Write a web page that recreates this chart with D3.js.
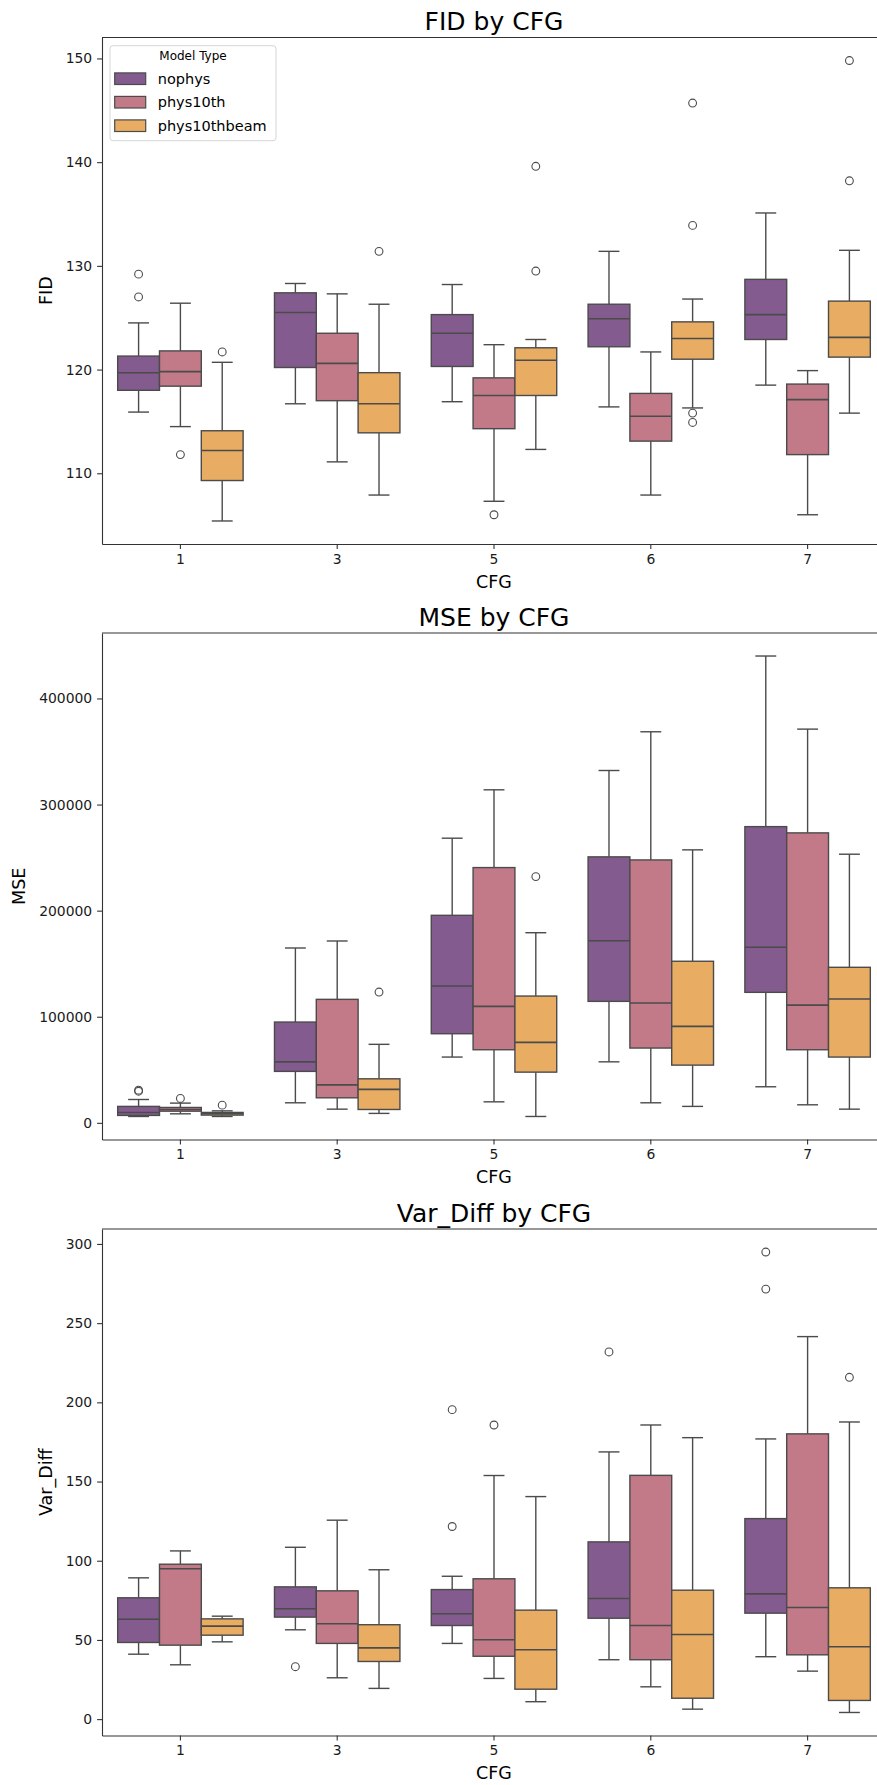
<!DOCTYPE html>
<html>
<head>
<meta charset="utf-8">
<script src="https://cdn.jsdelivr.net/npm/d3@7"></script>
<style>
  body { margin: 0; background: #fff; }
  svg { display: block; font-family: 'DejaVu Sans', sans-serif; }
</style>
</head>
<body>
<svg id="chart" width="877" height="1785"></svg>
<script>
const cfgs = ['1', '3', '5', '6', '7'];
const modelTypes = ['nophys', 'phys10th', 'phys10thbeam'];
const modelColors = ['#845b8f', '#c27a89', '#e8ad62'];

// one row per CFG: [lower whisker, q1, median, q3, upper whisker]
const fidNophys = [
  [115.9, 118.0, 119.7, 121.3, 124.5],
  [116.7, 120.2, 125.5, 127.4, 128.3],
  [116.9, 120.3, 123.5, 125.3, 128.2],
  [116.4, 122.2, 124.9, 126.3, 131.4],
  [118.5, 122.9, 125.3, 128.7, 135.1]
];
const fidPhys10th = [
  [114.5, 118.4, 119.8, 121.8, 126.4],
  [111.1, 117.0, 120.6, 123.5, 127.3],
  [107.3, 114.3, 117.5, 119.2, 122.4],
  [107.9, 113.1, 115.5, 117.7, 121.7],
  [106.0, 111.8, 117.1, 118.6, 119.9]
];
const fidPhys10thbeam = [
  [105.4, 109.3, 112.2, 114.1, 120.7],
  [107.9, 113.9, 116.7, 119.7, 126.3],
  [112.3, 117.5, 120.9, 122.1, 122.9],
  [116.3, 121.0, 123.0, 124.6, 126.8],
  [115.8, 121.2, 123.1, 126.6, 131.5]
];
// [cfg, model type, value]
const fidOutliers = [
  ['1', 'nophys', 127.0], ['1', 'nophys', 129.2], ['1', 'phys10th', 111.8],
  ['1', 'phys10thbeam', 121.7], ['3', 'phys10thbeam', 131.4], ['5', 'phys10th', 106.0],
  ['5', 'phys10thbeam', 139.6], ['5', 'phys10thbeam', 129.5],
  ['6', 'phys10thbeam', 145.7], ['6', 'phys10thbeam', 133.9],
  ['6', 'phys10thbeam', 115.8], ['6', 'phys10thbeam', 114.9],
  ['7', 'phys10thbeam', 149.8], ['7', 'phys10thbeam', 138.2]
];

const mseNophys = [
  [6000, 7000, 9800, 15500, 22000],
  [18900, 48500, 57500, 95000, 164800],
  [62000, 84000, 129000, 195600, 268300],
  [57500, 114500, 171700, 250700, 332100],
  [34000, 123000, 165500, 279200, 440000]
];
const msePhys10th = [
  [8500, 11000, 12600, 14500, 18600],
  [12900, 23600, 35800, 116400, 171400],
  [19800, 68900, 109800, 240600, 313900],
  [18900, 70500, 112900, 247800, 368600],
  [17000, 68900, 111000, 273300, 371100]
];
const msePhys10thbeam = [
  [6000, 7300, 8500, 9800, 11300],
  [8900, 12600, 31500, 41500, 74000],
  [6000, 47800, 75800, 119500, 179200],
  [15500, 54400, 90900, 152300, 257300],
  [12900, 62000, 116700, 146600, 253200]
];
const mseOutliers = [
  ['1', 'nophys', 29800], ['1', 'nophys', 30800], ['1', 'phys10th', 23000],
  ['1', 'phys10thbeam', 16700], ['3', 'phys10thbeam', 123300], ['5', 'phys10thbeam', 232100]
];

const varNophys = [
  [41.0, 48.4, 63.1, 76.6, 89.2],
  [56.4, 64.4, 69.7, 83.5, 108.5],
  [47.8, 59.1, 66.5, 81.8, 90.2],
  [37.5, 63.7, 76.2, 111.9, 168.7],
  [39.4, 66.9, 79.1, 126.6, 176.9]
];
const varPhys10th = [
  [34.3, 46.7, 94.9, 97.8, 106.2],
  [26.1, 47.8, 60.2, 81.0, 125.6],
  [25.7, 39.7, 50.1, 88.6, 153.8],
  [20.4, 37.5, 59.1, 153.9, 185.7],
  [30.3, 40.6, 70.5, 180.1, 241.5]
];
const varPhys10thbeam = [
  [48.8, 53.0, 58.7, 63.3, 65.0],
  [19.4, 36.4, 45.0, 59.6, 94.3],
  [11.0, 18.9, 43.8, 68.8, 140.5],
  [6.3, 13.2, 53.4, 81.4, 177.7],
  [4.2, 11.8, 45.7, 82.9, 187.6]
];
const varOutliers = [
  ['3', 'nophys', 33.1], ['5', 'nophys', 195.4], ['5', 'nophys', 121.6],
  ['5', 'phys10th', 185.7], ['6', 'nophys', 231.8],
  ['7', 'nophys', 294.9], ['7', 'nophys', 271.5], ['7', 'phys10thbeam', 215.8]
];

const fidTicks = [110, 120, 130, 140, 150];
const mseTicks = [0, 100000, 200000, 300000, 400000];
const varTicks = [0, 50, 100, 150, 200, 250, 300];

const panels = [
  { title: 'FID by CFG', ylabel: 'FID', series: [fidNophys, fidPhys10th, fidPhys10thbeam], outliers: fidOutliers, ticks: fidTicks, legend: true },
  { title: 'MSE by CFG', ylabel: 'MSE', series: [mseNophys, msePhys10th, msePhys10thbeam], outliers: mseOutliers, ticks: mseTicks },
  { title: 'Var_Diff by CFG', ylabel: 'Var_Diff', series: [varNophys, varPhys10th, varPhys10thbeam], outliers: varOutliers, ticks: varTicks }
];

const svg = d3.select('#chart');
const plotLeft = 102;
const plotRight = 886; // the right spine sits just past the picture edge
const plotHeight = 506.5;
const panelTops = [37.5, 633, 1229];
const ink = '#4b4b4b';
const spine = '#333';
const tickLen = 4.9;

const x = d3.scaleBand().domain(cfgs).range([plotLeft, plotRight]);
const hueX = d3.scaleBand().domain(modelTypes)
  .range([0.1 * x.bandwidth(), 0.9 * x.bandwidth()]);
const color = d3.scaleOrdinal().domain(modelTypes).range(modelColors);

function styleAxis(g) {
  g.select('.domain').attr('stroke', spine).attr('stroke-width', 1.1);
  g.selectAll('.tick line').attr('stroke', spine).attr('stroke-width', 1.1);
  g.selectAll('.tick text').attr('fill', '#1a1a1a').style('font-size', '13.9px');
  g.attr('font-family', null).attr('font-size', null);
}

function drawPanel(p, top) {
  const bottom = top + plotHeight;
  const values = p.series.flat(2).concat(p.outliers.map(d => d[2]));
  const [lo, hi] = d3.extent(values);
  const pad = (hi - lo) * 0.05;
  const y = d3.scaleLinear().domain([lo - pad, hi + pad]).range([bottom, top]);
  const bw = hueX.bandwidth();
  const g = svg.append('g');

  p.series.forEach((rows, mi) => {
    const model = modelTypes[mi];
    const box = g.append('g')
      .selectAll('g')
      .data(rows.map((s, i) => ({ cfg: cfgs[i], s })))
      .join('g')
      .attr('transform', d => `translate(${x(d.cfg) + hueX(model)},0)`);

    box.append('line')
      .attr('x1', bw / 2).attr('x2', bw / 2)
      .attr('y1', d => y(d.s[0])).attr('y2', d => y(d.s[1]))
      .attr('stroke', ink).attr('stroke-width', 1.4);
    box.append('line')
      .attr('x1', bw / 2).attr('x2', bw / 2)
      .attr('y1', d => y(d.s[3])).attr('y2', d => y(d.s[4]))
      .attr('stroke', ink).attr('stroke-width', 1.4);
    [0, 4].forEach(k => {
      box.append('line')
        .attr('x1', bw * 0.25).attr('x2', bw * 0.75)
        .attr('y1', d => y(d.s[k])).attr('y2', d => y(d.s[k]))
        .attr('stroke', ink).attr('stroke-width', 1.4);
    });
    box.append('rect')
      .attr('x', 0).attr('width', bw)
      .attr('y', d => y(d.s[3]))
      .attr('height', d => y(d.s[1]) - y(d.s[3]))
      .attr('fill', color(model))
      .attr('stroke', ink).attr('stroke-width', 1.4);
    box.append('line')
      .attr('x1', 0).attr('x2', bw)
      .attr('y1', d => y(d.s[2])).attr('y2', d => y(d.s[2]))
      .attr('stroke', ink).attr('stroke-width', 1.6);
  });

  g.append('g').selectAll('circle')
    .data(p.outliers)
    .join('circle')
    .attr('cx', d => x(d[0]) + hueX(d[1]) + bw / 2)
    .attr('cy', d => y(d[2]))
    .attr('r', 3.9)
    .attr('fill', 'none')
    .attr('stroke', ink)
    .attr('stroke-width', 1.1);

  const yAxis = svg.append('g')
    .attr('transform', `translate(${plotLeft},0)`)
    .call(d3.axisLeft(y).tickValues(p.ticks).tickFormat(d3.format('d'))
      .tickSize(tickLen).tickSizeOuter(0).tickPadding(4.9))
    .call(styleAxis);

  svg.append('g')
    .attr('transform', `translate(0,${bottom})`)
    .call(d3.axisBottom(x).tickSize(tickLen).tickSizeOuter(0).tickPadding(4.9))
    .call(styleAxis);

  svg.append('line')
    .attr('x1', plotLeft).attr('x2', plotRight)
    .attr('y1', top).attr('y2', top)
    .attr('stroke', spine).attr('stroke-width', 1.1);

  const mid = (plotLeft + plotRight) / 2;
  svg.append('text')
    .attr('x', mid).attr('y', top - 7.5)
    .attr('text-anchor', 'middle')
    .style('font-size', '25px')
    .attr('fill', '#000')
    .text(p.title);

  svg.append('text')
    .attr('x', mid).attr('y', bottom + 43.5)
    .attr('text-anchor', 'middle')
    .style('font-size', '17.5px')
    .attr('fill', '#000')
    .text('CFG');

  // bbox is in the axis group's own coordinates, so shift by plotLeft
  const tickBox = yAxis.node().getBBox();
  svg.append('text')
    .attr('transform', `translate(${plotLeft + tickBox.x - 20},${(top + bottom) / 2}) rotate(-90)`)
    .attr('text-anchor', 'middle')
    .attr('dominant-baseline', 'central')
    .style('font-size', '17.5px')
    .attr('fill', '#000')
    .text(p.ylabel);

  if (p.legend) buildLegend();
}

function buildLegend() {
  const lg = svg.append('g').attr('transform', 'translate(110,45.7)');
  lg.append('rect')
    .attr('width', 166).attr('height', 95).attr('rx', 3)
    .attr('fill', 'rgba(255,255,255,0.8)')
    .attr('stroke', '#d6d6d6');
  lg.append('text')
    .attr('x', 83).attr('y', 14.5)
    .attr('text-anchor', 'middle')
    .style('font-size', '12px')
    .attr('fill', '#000')
    .text('Model Type');

  const item = lg.selectAll('g.item')
    .data(modelTypes)
    .join('g')
    .attr('class', 'item')
    .attr('transform', (d, i) => `translate(0,${33 + i * 23.5})`);
  item.append('rect')
    .attr('x', 4.7).attr('y', -5.8)
    .attr('width', 31).attr('height', 11.6)
    .attr('fill', d => color(d))
    .attr('stroke', ink).attr('stroke-width', 1.2);
  item.append('text')
    .attr('x', 47.7).attr('y', 0)
    .attr('dominant-baseline', 'central')
    .style('font-size', '14.5px')
    .attr('fill', '#000')
    .text(d => d);
}

panels.forEach((p, i) => drawPanel(p, panelTops[i]));
</script>
</body>
</html>
